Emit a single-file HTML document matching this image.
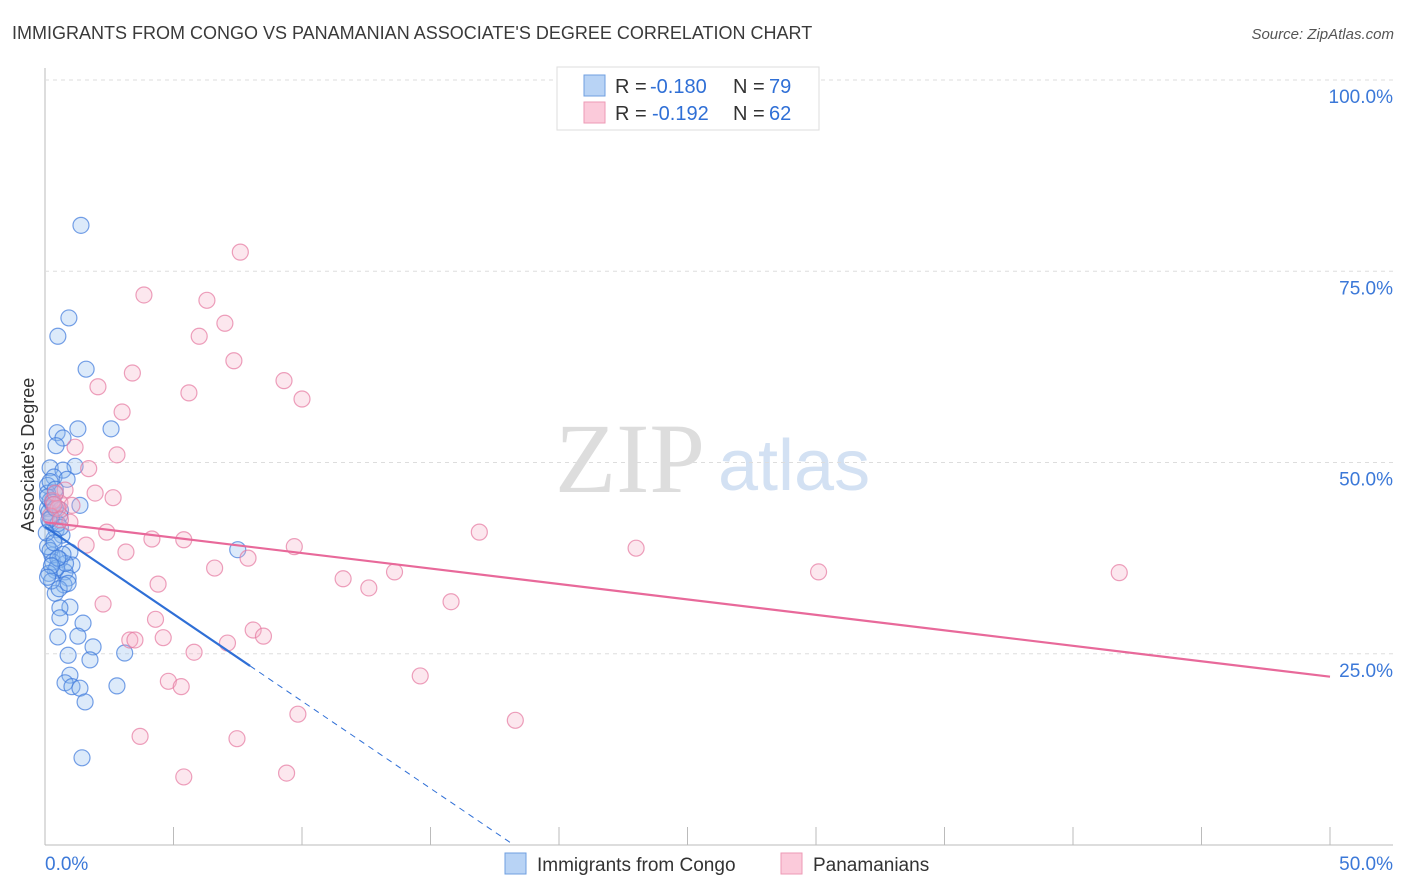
<!DOCTYPE html>
<html><head><meta charset="utf-8"><style>
body{margin:0;background:#fff;font-family:"Liberation Sans",sans-serif}
</style></head><body>
<svg id="c" width="1406" height="892" style="display:block">
<text x="12" y="39" font-size="18" fill="#3a3a3a">IMMIGRANTS FROM CONGO VS PANAMANIAN ASSOCIATE'S DEGREE CORRELATION CHART</text>
<text x="1394" y="39" font-size="15" fill="#555" font-style="italic" text-anchor="end">Source: ZipAtlas.com</text>
<text x="34" y="455" font-size="18" fill="#333" text-anchor="middle" transform="rotate(-90 34 455)">Associate's Degree</text>
<text x="555" y="492" font-size="100" fill="#ddd" font-family="Liberation Serif,serif">ZIP</text>
<text x="718" y="490" font-size="72" fill="#d3e1f3">atlas</text>
<g id="grid"></g><g id="pts"></g><g id="lines"></g>
<g>
<rect x="557" y="67" width="262" height="63" fill="#fff" stroke="#ddd"/>
<rect x="584" y="75" width="21" height="21" fill="#b8d3f5" stroke="#6f9fe0"/>
<rect x="584" y="102" width="21" height="21" fill="#fbcada" stroke="#ee9ab5"/>
<text x="615" y="93" font-size="20" fill="#333">R =</text><text x="650" y="93" font-size="20" fill="#2f6fd6">-0.180</text>
<text x="733" y="93" font-size="20" fill="#333">N =</text><text x="769" y="93" font-size="20" fill="#2f6fd6">79</text>
<text x="615" y="120" font-size="20" fill="#333">R =</text><text x="652" y="120" font-size="20" fill="#2f6fd6">-0.192</text>
<text x="733" y="120" font-size="20" fill="#333">N =</text><text x="769" y="120" font-size="20" fill="#2f6fd6">62</text>
</g>
<g>
<rect x="505" y="853" width="21" height="21" fill="#b8d3f5" stroke="#6f9fe0"/>
<text x="537" y="871" font-size="19" fill="#333">Immigrants from Congo</text>
<rect x="781" y="853" width="21" height="21" fill="#fbcada" stroke="#ee9ab5"/>
<text x="813" y="871" font-size="19" fill="#333">Panamanians</text>
</g>
</svg>
<script>
const yTicks=[25,50,75,100];
const xTickLabels=["0.0%","50.0%"];
const blueX=[1.4,0.93,0.5,1.6,2.57,1.28,0.47,0.7,0.43,1.17,0.2,0.7,0.35,0.86,0.1,0.4,1.36,0.1,0.58,0.2,0.43,0.66,7.5,0.97,0.27,0.58,1.05,0.4,0.78,0.9,0.74,0.4,0.97,0.58,0.58,1.48,0.5,1.28,1.87,0.9,3.1,1.75,0.97,0.78,1.05,1.36,2.8,1.56,1.44,0.1,0.2,0.3,0.15,0.25,0.5,0.6,0.35,0.1,0.2,0.3,0.45,0.15,0.8,0.25,0.55,0.1,0.2,0.4,0.3,0.6,0.15,0.05,0.35,0.7,0.5,0.25,0.1,0.9,0.4];
const blueY=[81,68.9,66.5,62.2,54.4,54.4,53.9,53.2,52.2,49.5,49.3,49,48.1,47.8,47,45.9,44.4,44,43.1,42.2,41.2,40.5,38.6,38.3,37.9,37.3,36.6,35.9,35.7,34.9,34,32.9,31.1,31,29.7,29,27.2,27.3,25.9,24.8,25.1,24.2,22.2,21.2,20.7,20.5,20.8,18.7,11.4,46,45,44.5,43.5,42.8,42,41.5,40,39,38.5,37,36.2,35.5,36.8,34.5,33.5,45.5,47.5,46.5,44.8,43.8,42.5,40.8,39.5,38,37.5,36.5,35,34.2,44];
const pinkX=[7.6,3.85,6.3,7,6,7.35,3.4,2.06,9.3,5.6,10,3,1.17,2.8,1.7,0.78,1.95,2.65,0.58,1.05,16.9,0.97,2.4,4.16,5.4,1.6,9.7,23,3.15,7.9,6.6,13.6,30.1,41.8,11.6,4.4,12.6,2.26,15.8,4.3,8.1,8.5,3.3,3.5,4.6,7.1,5.8,14.6,4.8,5.3,9.84,18.3,3.7,7.47,5.4,9.4,0.3,0.5,0.2,0.4,0.6,0.35];
const pinkY=[77.5,71.9,71.2,68.2,66.5,63.3,61.7,59.9,60.7,59.1,58.3,56.6,52,51,49.2,46.4,46,45.4,44.7,44.4,40.9,42.2,40.9,40,39.9,39.2,39,38.8,38.3,37.5,36.2,35.7,35.7,35.6,34.8,34.1,33.6,31.5,31.8,29.5,28.1,27.3,26.8,26.8,27.1,26.4,25.2,22.1,21.4,20.7,17.1,16.3,14.2,13.9,8.9,9.4,45,44,43,46,42.5,44.5];
const blueFit=[41.6,-2.28];
const pinkFit=[42.2,-0.404];
const NS="http://www.w3.org/2000/svg";
const X=v=>45+v/50*1285, Y=v=>845-v*7.65;
function mk(t,a,p){const e=document.createElementNS(NS,t);for(const k in a)e.setAttribute(k,a[k]);p.appendChild(e);return e;}
const g=document.getElementById('grid');
mk('line',{x1:45,y1:68,x2:45,y2:845,stroke:'#bbb'},g);
mk('line',{x1:45,y1:845,x2:1393,y2:845,stroke:'#bbb'},g);
yTicks.forEach(t=>{
 const l=mk('line',{x1:45,y1:Y(t),x2:1393,y2:Y(t),stroke:'#ddd','stroke-dasharray':'4,4'},g);
 
 
 const tx=mk('text',{x:1393,y:Y(t)+23,'font-size':19,fill:'#3b78d8','text-anchor':'end'},g);tx.textContent=t.toFixed(1)+'%';
 
 
});
for(let i=1;i<=10;i++){mk('line',{x1:X(i*5),y1:827,x2:X(i*5),y2:845,stroke:'#bbb'},g);}
const xl=mk('text',{x:45,y:870,'font-size':19,fill:'#3b78d8'},g);xl.textContent=xTickLabels[0];


const xr=mk('text',{x:1393,y:870,'font-size':19,fill:'#3b78d8','text-anchor':'end'},g);xr.textContent=xTickLabels[1];


const P=document.getElementById('pts');
blueX.forEach((x,i)=>{const c=mk('circle',{cx:X(x),cy:Y(blueY[i]),r:8,fill:'rgba(140,185,240,0.3)',stroke:'rgba(60,120,220,0.7)','stroke-width':1.2},P);
 
 });
pinkX.forEach((x,i)=>{const c=mk('circle',{cx:X(x),cy:Y(pinkY[i]),r:8,fill:'rgba(245,175,200,0.3)',stroke:'rgba(230,120,160,0.7)','stroke-width':1.2},P);
 
 });
const L=document.getElementById('lines');
const bEnd=7.98, bZero=-blueFit[0]/blueFit[1];
const b1=mk('line',{x1:X(0),y1:Y(blueFit[0]),x2:X(bEnd),y2:Y(blueFit[0]+blueFit[1]*bEnd),stroke:'#2f6fd6','stroke-width':2.2},L);


const b2=mk('line',{x1:X(bEnd),y1:Y(blueFit[0]+blueFit[1]*bEnd),x2:X(bZero),y2:Y(0),stroke:'#2f6fd6','stroke-width':1,'stroke-dasharray':'6,5'},L);


const p1=mk('line',{x1:X(0),y1:Y(pinkFit[0]),x2:X(50),y2:Y(pinkFit[0]+pinkFit[1]*50),stroke:'#e8699a','stroke-width':2.2},L);


</script>
</body></html>
